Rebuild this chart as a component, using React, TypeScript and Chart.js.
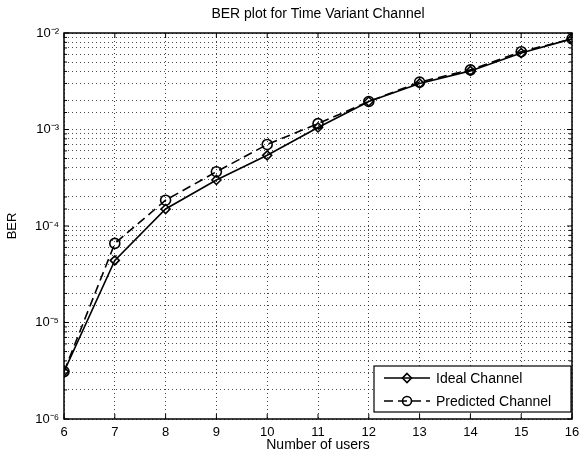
import React, { useEffect, useRef } from 'react';
import { Chart, registerables } from 'chart.js';

Chart.register(...registerables);

const users = [6, 7, 8, 9, 10, 11, 12, 13, 14, 15, 16];
const idealBER = [3.1e-6, 4.4e-5, 1.5e-4, 3.0e-4, 5.4e-4, 1.05e-3, 1.95e-3, 3.0e-3, 4.05e-3, 6.2e-3, 8.7e-3];
const predictedBER = [3.1e-6, 6.6e-5, 1.85e-4, 3.65e-4, 7.0e-4, 1.15e-3, 1.95e-3, 3.1e-3, 4.15e-3, 6.4e-3, 8.7e-3];
const seriesNames = ['Ideal Channel', 'Predicted Channel'];
const titleText = 'BER plot for Time Variant Channel';
const xLabel = 'Number of users';
const yLabel = 'BER';

const FONT = '"Liberation Sans", Arial, Helvetica, sans-serif';
const SUP: Record<string, string> = {
  '-': '\u207B', '0': '\u2070', '1': '\u00B9', '2': '\u00B2', '3': '\u00B3',
  '4': '\u2074', '5': '\u2075', '6': '\u2076', '7': '\u2077', '8': '\u2078', '9': '\u2079',
};
const toSup = (s: string) => s.split('').map((c) => SUP[c] || c).join('');

function drawDiamond(ctx: CanvasRenderingContext2D, x: number, y: number, r: number) {
  ctx.beginPath();
  ctx.moveTo(x, y - r);
  ctx.lineTo(x + r, y);
  ctx.lineTo(x, y + r);
  ctx.lineTo(x - r, y);
  ctx.closePath();
  ctx.stroke();
}
function drawCircle(ctx: CanvasRenderingContext2D, x: number, y: number, r: number) {
  ctx.beginPath();
  ctx.arc(x, y, r, 0, Math.PI * 2);
  ctx.stroke();
}

const framePlugin = {
  id: 'matlabFrame',
  afterDraw(chart: any) {
    const ctx: CanvasRenderingContext2D = chart.ctx;
    const { left, right, top, bottom } = chart.chartArea;
    ctx.save();
    ctx.strokeStyle = '#000';
    ctx.lineWidth = 1.5;
    ctx.setLineDash([]);
    ctx.strokeRect(left, top, right - left, bottom - top);
    const xs = chart.scales.x;
    ctx.lineWidth = 1;
    users.forEach((u) => {
      const px = xs.getPixelForValue(u);
      ctx.beginPath();
      ctx.moveTo(px, bottom);
      ctx.lineTo(px, bottom - 5);
      ctx.moveTo(px, top);
      ctx.lineTo(px, top + 5);
      ctx.stroke();
    });
    const ys = chart.scales.y;
    (ys.ticks || []).forEach((t: any) => {
      const py = ys.getPixelForValue(t.value);
      const lg = Math.log10(t.value);
      const len = Math.abs(lg - Math.round(lg)) < 1e-9 ? 5 : 3;
      ctx.beginPath();
      ctx.moveTo(left, py);
      ctx.lineTo(left + len, py);
      ctx.moveTo(right, py);
      ctx.lineTo(right - len, py);
      ctx.stroke();
    });

    // legend
    const bx = 374, by = 366, bw = 197, bh = 46;
    ctx.fillStyle = '#fff';
    ctx.fillRect(bx, by, bw, bh);
    ctx.lineWidth = 1.2;
    ctx.strokeStyle = '#000';
    ctx.strokeRect(bx, by, bw, bh);
    const rows = [by + 12, by + 35];
    ctx.lineWidth = 1.6;
    ctx.beginPath();
    ctx.moveTo(384, rows[0]);
    ctx.lineTo(430, rows[0]);
    ctx.stroke();
    drawDiamond(ctx, 407, rows[0], 4.5);
    ctx.setLineDash([9, 5]);
    ctx.beginPath();
    ctx.moveTo(384, rows[1]);
    ctx.lineTo(430, rows[1]);
    ctx.stroke();
    ctx.setLineDash([]);
    drawCircle(ctx, 407, rows[1], 4.5);
    ctx.fillStyle = '#000';
    ctx.font = `14px ${FONT}`;
    ctx.textBaseline = 'middle';
    ctx.textAlign = 'left';
    ctx.fillText(seriesNames[0], 436, rows[0] + 1);
    ctx.fillText(seriesNames[1], 436, rows[1] + 1);
    ctx.restore();
  },
};

export default function App() {
  const ref = useRef<HTMLCanvasElement | null>(null);
  useEffect(() => {
    if (!ref.current) return;
    const chart = new Chart(ref.current, {
      type: 'line',
      data: {
        datasets: [
          {
            label: seriesNames[0],
            data: users.map((u, i) => ({ x: u, y: idealBER[i] })),
            borderColor: '#000',
            backgroundColor: 'transparent',
            borderWidth: 1.6,
            pointStyle: 'rectRot',
            pointRadius: 4.5,
            pointBorderWidth: 1.6,
            pointBorderColor: '#000',
            pointBackgroundColor: 'transparent',
            tension: 0,
          },
          {
            label: seriesNames[1],
            data: users.map((u, i) => ({ x: u, y: predictedBER[i] })),
            borderColor: '#000',
            backgroundColor: 'transparent',
            borderWidth: 1.6,
            borderDash: [9, 5],
            pointStyle: 'circle',
            pointRadius: 5,
            pointBorderWidth: 1.6,
            pointBorderColor: '#000',
            pointBackgroundColor: 'transparent',
            tension: 0,
          },
        ],
      },
      options: {
        animation: false,
        responsive: false,
        maintainAspectRatio: false,
        layout: { padding: { left: 0, right: 8, top: 0, bottom: 0 } },
        plugins: {
          legend: { display: false },
          tooltip: { enabled: false },
          title: {
            display: true,
            text: titleText,
            color: '#000',
            fullSize: false,
            font: { family: FONT, size: 14, weight: 'normal' as any, lineHeight: 1.2 },
            padding: { top: 5.5, bottom: 10.7 },
          },
        },
        scales: {
          x: {
            type: 'linear',
            min: 6,
            max: 16,
            ticks: {
              stepSize: 1,
              color: '#000',
              font: { family: FONT, size: 13 },
              padding: 6,
              autoSkip: false,
              maxRotation: 0,
            },
            grid: { color: 'rgba(0,0,0,0.75)', drawTicks: false, lineWidth: 1 },
            border: { display: false, dash: [1, 3] },
            title: {
              display: true,
              text: xLabel,
              color: '#000',
              font: { family: FONT, size: 14 },
              padding: { top: 0, bottom: 3 },
            },
            afterFit(scale: any) {
              scale.height = 38;
              scale.paddingLeft = 0;
              scale.paddingRight = 0;
            },
          },
          y: {
            type: 'logarithmic',
            min: 1e-6,
            max: 1e-2,
            ticks: {
              color: '#000',
              font: { family: FONT, size: 13 },
              padding: 5,
              autoSkip: false,
              callback: (v: any) => {
                const lg = Math.log10(Number(v));
                if (Math.abs(lg - Math.round(lg)) < 1e-9) {
                  return '10' + toSup(String(Math.round(lg)));
                }
                return '';
              },
            },
            grid: { color: 'rgba(0,0,0,0.7)', drawTicks: false, lineWidth: 1 },
            border: { display: false, dash: [1, 3] },
            title: {
              display: true,
              text: yLabel,
              color: '#000',
              font: { family: FONT, size: 13 },
              padding: 5,
            },
            afterFit(scale: any) {
              scale.width = 64;
              scale.paddingTop = 0;
              scale.paddingBottom = 0;
            },
          },
        },
      },
      plugins: [framePlugin],
    });
    return () => chart.destroy();
  }, []);
  return (
    <div style={{ position: 'fixed', left: 0, top: 0, width: 580, height: 457, background: '#fff' }}>
      <canvas ref={ref} width={580} height={457} style={{ display: 'block' }} />
    </div>
  );
}
